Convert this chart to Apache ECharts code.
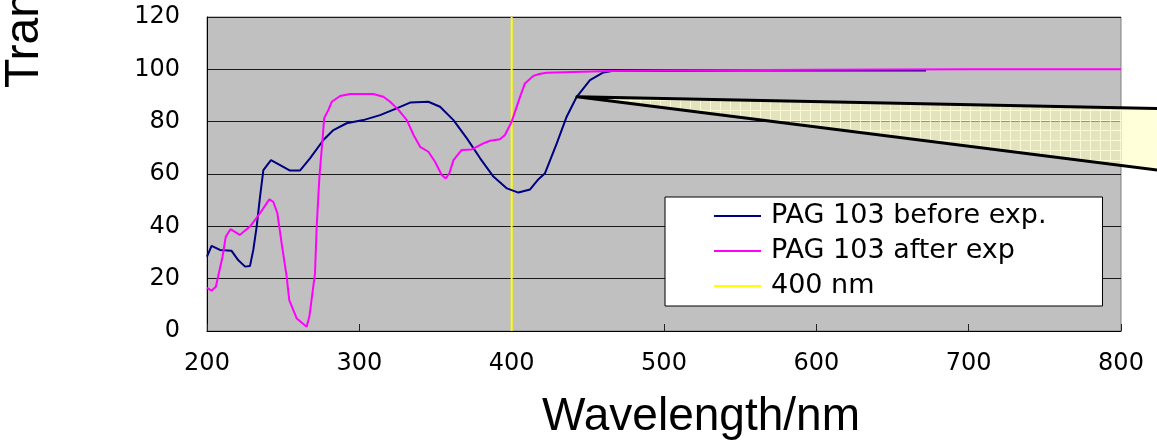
<!DOCTYPE html>
<html>
<head>
<meta charset="utf-8">
<script src="https://cdn.jsdelivr.net/npm/echarts@6/dist/echarts.min.js"></script>
<style>
  html, body { margin: 0; padding: 0; background: #fff; }
  #chart { width: 1157px; height: 442px; }
</style>
</head>
<body>
<div id="chart"></div>
<script>
// ---- data ----
const xTicks = [200, 300, 400, 500, 600, 700, 800];
const yTicks = [0, 20, 40, 60, 80, 100, 120];

const wavelengthBefore = [200, 203, 208.5, 216, 220.6, 225, 228.2, 230.4, 232.6, 234.8, 237, 242, 248, 254.5, 261, 267.6, 276.4, 283, 291.7, 302.6, 313.6, 324.5, 333.3, 345.3, 353, 361.8, 370.6, 379.3, 388, 396.9, 404.4, 412.1, 417.6, 421.9, 429.6, 436.1, 442.7, 451.4, 460.2, 465.6, 480, 500, 550, 600, 650, 672];
const transBefore = [28.4, 32.5, 31, 30.7, 27, 24.6, 24.8, 31, 39.9, 51.3, 61.5, 65.3, 63.4, 61.3, 61.3, 66, 73, 76.8, 79.4, 80.6, 82.5, 85.1, 87.3, 87.6, 85.7, 80.6, 73.6, 66, 59, 54.5, 52.9, 54.1, 58, 60.3, 71.7, 81.9, 89.5, 95.9, 98.8, 99.4, 99.5, 99.5, 99.6, 99.6, 99.6, 99.6];

const wavelengthAfter = [200, 203, 205.8, 210.2, 212.3, 215.4, 221.5, 228.2, 234.8, 240.9, 243.5, 246.2, 249, 252.3, 254, 258.9, 265.4, 267.2, 270.9, 272, 273.8, 276, 276.9, 279.7, 281.9, 287.4, 294, 309.2, 315.8, 320.2, 325.7, 331.2, 335.6, 339.9, 345.3, 349.7, 354.1, 356.7, 359.1, 361.8, 367.2, 373.8, 381.4, 385.8, 392.3, 395.6, 400, 405.5, 408.7, 414.2, 418.2, 422.8, 440, 465, 500, 600, 700, 800];
const transAfter = [16.5, 15.4, 16.9, 28.4, 36, 38.9, 36.7, 39.9, 45, 50.3, 49.4, 45, 33.5, 20.8, 11.8, 4.8, 1.6, 5.5, 22, 39.9, 59, 74.3, 81.3, 84.5, 87.6, 89.8, 90.6, 90.6, 89.5, 87.6, 84.5, 80.6, 74.9, 70.4, 68.5, 64.7, 59.6, 58.3, 60.3, 65.3, 69.2, 69.4, 71.7, 72.7, 73.3, 74.9, 80, 89.5, 94.6, 97.5, 98.2, 98.7, 99.0, 99.4, 99.6, 99.8, 100, 100];

const markerWavelength = [400, 400];
const markerTrans = [0, 120];

const seriesNames = ['PAG 103 before exp.', 'PAG 103 after exp', '400 nm'];
const xTitle = 'Wavelength/nm';
const yTitle = 'Transmittance/%';
const calloutApex = [442.9, 89.5]; // point on the "before" curve the callout starts from

// ---- build ----
const zip = (xs, ys) => xs.map((x, i) => [x, ys[i]]);

const chart = echarts.init(document.getElementById('chart'), null, { renderer: 'canvas' });

const tickFont = 'DejaVu Sans';
const option = {
  animation: false,
  backgroundColor: '#ffffff',
  grid: {
    left: 207, right: 36, top: 17, bottom: 111,
    show: true, backgroundColor: '#C0C0C0', borderColor: '#808080', borderWidth: 1
  },
  xAxis: {
    type: 'value', min: xTicks[0], max: xTicks[xTicks.length - 1], interval: 100,
    axisLine: { show: true, onZero: false, lineStyle: { color: '#000', width: 1 } },
    axisTick: { show: true, inside: true, length: 7, lineStyle: { color: '#222' } },
    splitLine: { show: false },
    axisLabel: { color: '#000', fontFamily: tickFont, fontSize: 24, margin: 21 }
  },
  yAxis: {
    type: 'value', min: yTicks[0], max: yTicks[yTicks.length - 1], interval: 20,
    axisLine: { show: true, lineStyle: { color: '#000', width: 1 } },
    axisTick: { show: false },
    splitLine: { show: true, lineStyle: { color: '#1a1a1a', width: 1 } },
    axisLabel: { color: '#000', fontFamily: tickFont, fontSize: 24, margin: 27 }
  },
  legend: {
    data: seriesNames,
    orient: 'vertical', left: 665, top: 197,
    padding: [5, 56, 6, 48], itemGap: 7, itemWidth: 47, itemHeight: 14,
    backgroundColor: '#ffffff', borderColor: '#000', borderWidth: 1, borderRadius: 0,
    selectedMode: false,
    itemStyle: { color: 'transparent', borderWidth: 0, opacity: 0 },
    textStyle: { fontFamily: tickFont, fontSize: 27, lineHeight: 28, color: '#000', padding: [0, 0, 0, 5] }
  },
  series: [
    {
      name: seriesNames[2], type: 'line', data: zip(markerWavelength, markerTrans),
      symbol: 'none', z: 2, lineStyle: { color: '#FFFF00', width: 2 }, itemStyle: { color: '#FFFF00' }
    },
    {
      name: seriesNames[0], type: 'line', data: zip(wavelengthBefore, transBefore),
      symbol: 'none', z: 3, lineStyle: { color: '#000080', width: 2 }, itemStyle: { color: '#000080' }
    },
    {
      name: seriesNames[1], type: 'line', data: zip(wavelengthAfter, transAfter),
      symbol: 'none', z: 4, lineStyle: { color: '#FF00FF', width: 2 }, itemStyle: { color: '#FF00FF' }
    }
  ]
};
chart.setOption(option);

// callout triangle with a light grid pattern
const pat = document.createElement('canvas');
pat.width = 10; pat.height = 10;
const pc = pat.getContext('2d');
pc.fillStyle = 'rgba(255,255,190,0.55)';
pc.fillRect(0, 0, 10, 10);
pc.fillStyle = 'rgba(255,255,215,0.85)';
pc.fillRect(0, 0, 10, 1);
pc.fillRect(0, 0, 1, 10);

const apex = chart.convertToPixel({ xAxisIndex: 0, yAxisIndex: 0 }, calloutApex);
const W = 1157;
chart.setOption({
  graphic: [
    {
      type: 'polygon', z: 50,
      shape: { points: [apex, [W + 4, 108.5], [W + 4, 170.5]] },
      style: { fill: { image: pat, repeat: 'repeat' }, stroke: '#000', lineWidth: 3, lineJoin: 'round' }
    },
    {
      type: 'text', z: 60, x: 701, y: 417,
      style: { text: xTitle, font: '46px "Liberation Sans", Arial, sans-serif', fill: '#000', align: 'center', verticalAlign: 'middle' }
    },
    {
      type: 'text', z: 60, x: 25, y: 88, rotation: Math.PI / 2,
      style: { text: yTitle, font: '48px "Liberation Sans", Arial, sans-serif', fill: '#000', align: 'left', verticalAlign: 'middle' }
    }
  ]
});
</script>
</body>
</html>
